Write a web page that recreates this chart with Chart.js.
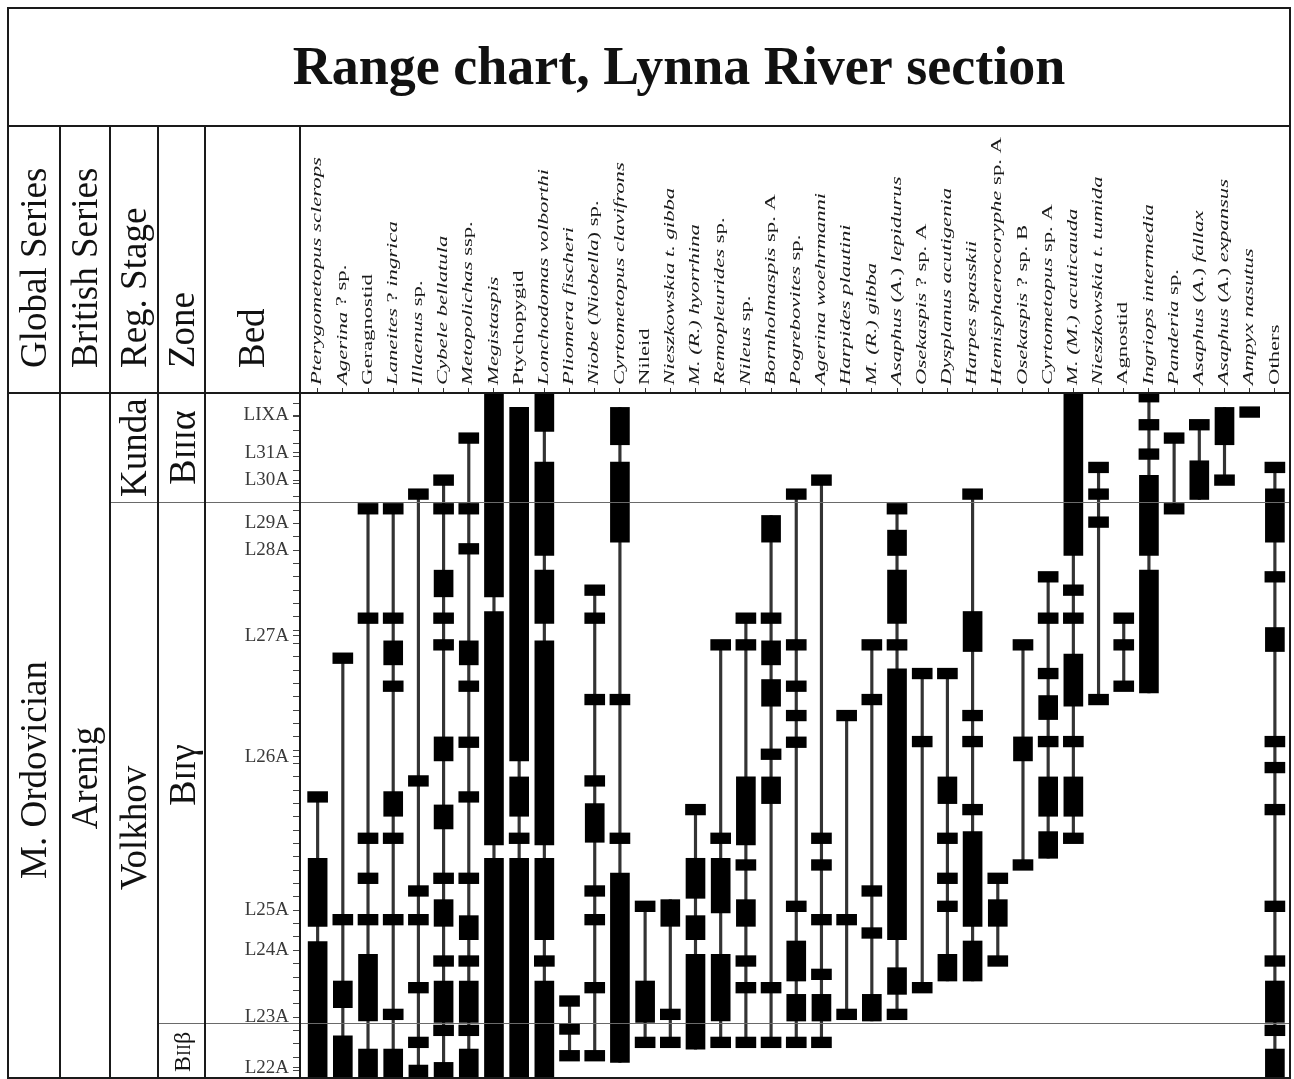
<!DOCTYPE html>
<html>
<head>
<meta charset="utf-8">
<title>Range chart, Lynna River section</title>
<script src="https://cdn.jsdelivr.net/npm/chart.js@4.4.1/dist/chart.umd.min.js"></script>
<style>
  html, body { margin: 0; padding: 0; background: #fff; }
  #wrap { width: 1294px; height: 1079px; }
</style>
</head>
<body>
<div id="wrap"><canvas id="range-chart" width="1294" height="1079"></canvas></div>
<script>
// taxa, left to right (_..._ = italic part of the name)
const taxa = [
  '_Pterygometopus sclerops_', '_Agerina_ ? sp.', 'Geragnostid', '_Laneites_ ? _ingrica_',
  '_Illaenus_ sp.', '_Cybele bellatula_', '_Metopolichas_ ssp.', '_Megistaspis_', 'Ptychopygid',
  '_Lonchodomas volborthi_', '_Pliomera fischeri_', '_Niobe_ (_Niobella_) sp.', '_Cyrtometopus clavifrons_',
  'Nileid', '_Nieszkowskia t. gibba_', '_M. (R.) hyorrhina_', '_Remopleurides_ sp.', '_Nileus_ sp.',
  '_Bornholmaspis_ sp. A', '_Pogrebovites_ sp.', '_Agerina woehrmanni_', '_Harpides plautini_',
  '_M. (R.) gibba_', '_Asaphus_ (_A._) _lepidurus_', '_Osekaspis_ ? sp. A', '_Dysplanus acutigenia_',
  '_Harpes spasskii_', '_Hemisphaerocoryphe_ sp. A', '_Osekaspis_ ? sp. B', '_Cyrtometopus_ sp. A',
  '_M. (M.) acuticauda_', '_Nieszkowskia t. tumida_', 'Agnostid', '_Ingriops intermedia_',
  '_Panderia_ sp.', '_Asaphus_ (_A._) _fallax_', '_Asaphus_ (_A._) _expansus_', '_Ampyx nasutus_', 'Others'
];

// beds (level in section, tick units)
const bedNames = ['L22A', 'L23A', 'L24A', 'L25A', 'L26A', 'L27A', 'L28A', 'L29A', 'L30A', 'L31A', 'LIXA'];
const bedLevels = [0.2, 4, 9, 12, 23.5, 32.6, 39, 41, 44.25, 46.3, 49.1];
const stageBoundary = 42.6;  // Kunda / Volkhov, BIIIα / BIIγ
const zoneBoundary = 3.55;   // BIIγ / BIIβ

// single-sample occurrences per taxon
const sampleMarks = [
  [20.5],
  [30.9, 11.3],
  [42.1, 33.9, 17.4, 14.4, 11.3],
  [42.1, 33.9, 28.8, 17.4, 11.3, 4.2],
  [43.2, 21.7, 13.45, 11.3, 6.2, 2.1],
  [44.25, 42.1, 33.9, 31.9, 14.4, 8.2, 3.0],
  [47.4, 42.1, 39.1, 28.8, 24.6, 20.5, 14.4, 8.2, 3.0],
  [],
  [17.4],
  [8.2],
  [5.2, 3.1, 1.1],
  [36.0, 33.9, 27.8, 21.7, 13.45, 11.3, 6.2, 1.1],
  [27.8, 17.4],
  [12.3, 2.1],
  [4.2, 2.1],
  [19.55],
  [31.9, 17.4, 2.1],
  [33.9, 31.9, 15.4, 8.2, 6.2, 2.1],
  [33.9, 23.7, 6.2, 2.1],
  [43.2, 31.9, 28.8, 26.6, 24.6, 12.3, 2.1],
  [44.25, 17.4, 15.4, 11.3, 7.2, 2.1],
  [26.6, 11.3, 4.2],
  [31.9, 27.8, 13.45, 10.3],
  [42.1, 31.9, 4.2],
  [29.75, 24.65, 6.2],
  [29.75, 17.4, 14.4, 12.3],
  [43.2, 26.6, 24.65, 19.55],
  [14.4, 8.2],
  [31.9, 15.4],
  [37.0, 33.9, 29.75, 24.65],
  [36.0, 33.9, 24.65, 17.4],
  [45.2, 43.2, 41.1, 27.8],
  [33.9, 31.9, 28.8],
  [50.5, 48.4, 46.2],
  [47.4, 42.1],
  [48.4],
  [44.25],
  [49.35],
  [45.2, 37.0, 24.65, 22.7, 19.55, 12.3, 8.2, 3.0]
];

// continuous occurrence intervals [base, top] per taxon
const blockSpans = [
  [[10.8, 15.9], [-1, 9.66]],
  [[4.7, 6.7], [-1, 2.6]],
  [[3.7, 8.7], [-1, 1.6]],
  [[30.4, 32.2], [19.05, 20.9], [-1, 1.6]],
  [[-1, 0.4]],
  [[35.5, 37.5], [23.2, 25.0], [18.1, 19.9], [10.8, 12.8], [3.6, 6.7], [-1, 0.6]],
  [[30.4, 32.2], [9.8, 11.6], [3.6, 6.7], [-1, 1.6]],
  [[35.5, 51], [16.9, 34.4], [-1, 15.9]],
  [[23.2, 49.7], [19.05, 22.0], [-1, 15.9]],
  [[47.9, 51], [38.6, 45.6], [33.5, 37.5], [16.9, 32.2], [9.8, 15.9], [-1, 6.7]],
  [],
  [[17.1, 20.0]],
  [[46.9, 49.7], [39.6, 45.6], [0.6, 14.8]],
  [[3.6, 6.7]],
  [[10.8, 12.8]],
  [[12.9, 15.9], [9.8, 11.6], [1.6, 8.7]],
  [[11.8, 15.9], [3.7, 8.7]],
  [[16.9, 22.0], [10.8, 12.8]],
  [[39.6, 41.6], [30.4, 32.2], [27.3, 29.3], [20.0, 22.0]],
  [[6.7, 9.7], [3.7, 5.7]],
  [[3.7, 5.7]],
  [],
  [[3.7, 5.7]],
  [[38.6, 40.5], [33.5, 37.5], [9.8, 30.1], [5.7, 7.7]],
  [],
  [[20.0, 22.0], [6.7, 8.7]],
  [[31.4, 34.4], [10.8, 17.9], [6.7, 9.7]],
  [[10.8, 12.8]],
  [[23.2, 25.0]],
  [[26.3, 28.1], [19.05, 22.0], [15.9, 17.9]],
  [[38.6, 51], [27.3, 31.2], [19.05, 22.0]],
  [],
  [],
  [[38.6, 44.6], [28.3, 37.5]],
  [],
  [[42.8, 45.7]],
  [[46.9, 49.7]],
  [],
  [[39.6, 43.6], [31.4, 33.2], [3.6, 6.7], [-1, 1.6]]
];

const SERIF = '"Liberation Serif", "DejaVu Serif", serif';
const MARK_HALF = 0.4;

const markData = [];
const blockData = [];
const rangeData = [];
taxa.forEach((t, i) => {
  const lows = [], highs = [];
  sampleMarks[i].forEach(c => {
    markData.push({ x: i, y: [c - MARK_HALF, c + MARK_HALF] });
    lows.push(c); highs.push(c);
  });
  blockSpans[i].forEach(b => {
    blockData.push({ x: i, y: [b[0], b[1]] });
    lows.push(b[0]); highs.push(b[1]);
  });
  if (lows.length) rangeData.push({ x: i, y: [Math.min(...lows), Math.max(...highs)] });
});

// rotated text made of roman/italic pieces
function drawTaxonLabel(ctx, label, x, y) {
  const parts = label.split('_');
  ctx.save();
  ctx.translate(x, y);
  ctx.rotate(-Math.PI / 2);
  ctx.scale(1.62, 1);
  ctx.textAlign = 'left';
  ctx.textBaseline = 'middle';
  ctx.fillStyle = '#1a1a1a';
  let pos = 0;
  parts.forEach((seg, k) => {
    if (!seg) return;
    ctx.font = (k % 2 ? 'italic ' : '') + '14px ' + SERIF;
    ctx.fillText(seg, pos, 0);
    pos += ctx.measureText(seg).width;
  });
  ctx.restore();
}

// rotated text, pieces with own sizes; align 'left' starts at y, 'center' centres on y
function drawUpText(ctx, pieces, x, y, align) {
  ctx.save();
  ctx.translate(x, y);
  ctx.rotate(-Math.PI / 2);
  ctx.textBaseline = 'alphabetic';
  ctx.textAlign = 'left';
  ctx.fillStyle = '#111';
  const big = Math.max(...pieces.map(p => p[1]));
  let total = 0;
  pieces.forEach(p => { ctx.font = p[1] + 'px ' + SERIF; total += ctx.measureText(p[0]).width; });
  let pos = align === 'center' ? -total / 2 : 0;
  pieces.forEach(p => {
    ctx.font = p[1] + 'px ' + SERIF;
    ctx.fillText(p[0], pos, big * 0.33);
    pos += ctx.measureText(p[0]).width;
  });
  ctx.restore();
}

const framePlugin = {
  id: 'frame',
  beforeDraw(chart) {
    const ctx = chart.ctx;
    ctx.save();
    ctx.fillStyle = '#fff';
    ctx.fillRect(0, 0, chart.width, chart.height);
    ctx.restore();
  },
  afterDraw(chart) {
    const ctx = chart.ctx;
    const xs = chart.scales.x, ys = chart.scales.y;
    const area = chart.chartArea;
    ctx.save();

    // zone / stage boundaries
    ctx.strokeStyle = '#6a6a6a';
    ctx.lineWidth = 1;
    const yb1 = Math.round(ys.getPixelForValue(stageBoundary)) + 0.5;
    const yb2 = Math.round(ys.getPixelForValue(zoneBoundary)) + 0.5;
    ctx.beginPath();
    ctx.moveTo(110, yb1); ctx.lineTo(area.right, yb1);
    ctx.moveTo(158, yb2); ctx.lineTo(area.right, yb2);
    ctx.stroke();

    // table frame
    ctx.strokeStyle = '#1a1a1a';
    ctx.lineWidth = 2;
    ctx.strokeRect(8, 8, area.right - 8, 1070);
    ctx.beginPath();
    ctx.moveTo(8, 126); ctx.lineTo(area.right, 126);
    ctx.moveTo(8, area.top); ctx.lineTo(area.right, area.top);
    [60, 110, 158, 205, area.left].forEach(x => { ctx.moveTo(x, 126); ctx.lineTo(x, 1078); });
    ctx.stroke();

    // title
    ctx.fillStyle = '#111';
    ctx.font = 'bold 54px ' + SERIF;
    ctx.textAlign = 'center';
    ctx.textBaseline = 'alphabetic';
    ctx.fillText('Range chart, Lynna River section', 679, 84);

    // column headings
    drawUpText(ctx, [['Global Series', 37]], 34, 368, 'left');
    drawUpText(ctx, [['British Series', 37]], 85, 368, 'left');
    drawUpText(ctx, [['Reg. Stage', 37]], 134, 368, 'left');
    drawUpText(ctx, [['Zone', 37]], 182, 368, 'left');
    drawUpText(ctx, [['Bed', 37]], 252, 368, 'left');

    // stratigraphic units
    const midTop = (ys.getPixelForValue(stageBoundary) + area.top) / 2;
    drawUpText(ctx, [['M. Ordovician', 37]], 34, 770, 'center');
    drawUpText(ctx, [['Arenig', 37]], 85, 778, 'center');
    drawUpText(ctx, [['Kunda', 37]], 134, midTop, 'center');
    drawUpText(ctx, [['Volkhov', 37]], 134, 828, 'center');
    drawUpText(ctx, [['B', 38], ['III', 29], ['α', 38]], 182, midTop, 'center');
    drawUpText(ctx, [['B', 38], ['II', 29], ['γ', 38]], 182, 775, 'center');
    drawUpText(ctx, [['B', 24], ['II', 18], ['β', 24]], 182, 1052, 'center');

    // taxon names
    taxa.forEach((t, i) => drawTaxonLabel(ctx, t, xs.getPixelForValue(i), area.top - 8));
    ctx.restore();
  }
};

new Chart(document.getElementById('range-chart'), {
  type: 'bar',
  data: {
    datasets: [
      { data: blockData, backgroundColor: '#000', maxBarThickness: 19, order: 1 },
      { data: markData, backgroundColor: '#000', maxBarThickness: 20, order: 1 },
      { data: rangeData, backgroundColor: '#333', maxBarThickness: 2.5, order: 2 }
    ]
  },
  options: {
    responsive: false,
    devicePixelRatio: 1,
    animation: false,
    events: [],
    layout: { padding: { left: 205, right: 4, top: 126, bottom: 1 } },
    datasets: {
      bar: { grouped: false, barPercentage: 1, categoryPercentage: 1, borderWidth: 0, clip: 0 }
    },
    plugins: { legend: { display: false }, tooltip: { enabled: false } },
    scales: {
      x: {
        type: 'linear',
        position: 'top',
        min: -0.7,
        max: 38.6,
        offset: false,
        afterBuildTicks: (s) => { s.ticks = taxa.map((_, i) => ({ value: i })); },
        afterFit: (s) => { s.height = 267; s.paddingLeft = 0; s.paddingRight = 0; },
        ticks: { display: false },
        grid: { offset: false, drawOnChartArea: false, drawTicks: true, tickLength: 5, color: '#333' },
        border: { display: false }
      },
      y: {
        type: 'linear',
        min: -0.57,
        max: 50.78,
        afterBuildTicks: (s) => {
          const vals = [];
          for (let v = 0; v <= 50; v++) vals.push(v);
          bedLevels.forEach(v => { if (!vals.includes(v)) vals.push(v); });
          vals.sort((a, b) => a - b);
          s.ticks = vals.map(v => ({ value: v }));
        },
        afterFit: (s) => { s.width = 95; s.paddingTop = 0; s.paddingBottom = 0; },
        ticks: {
          autoSkip: false,
          padding: 4,
          color: '#3a3a3a',
          font: { family: SERIF, size: 19 },
          callback: (v) => {
            const k = bedLevels.indexOf(v);
            return k >= 0 ? bedNames[k] : '';
          }
        },
        grid: { drawOnChartArea: false, drawTicks: true, tickLength: 7, color: '#444' },
        border: { display: false }
      }
    }
  },
  plugins: [framePlugin]
});
</script>
</body>
</html>
